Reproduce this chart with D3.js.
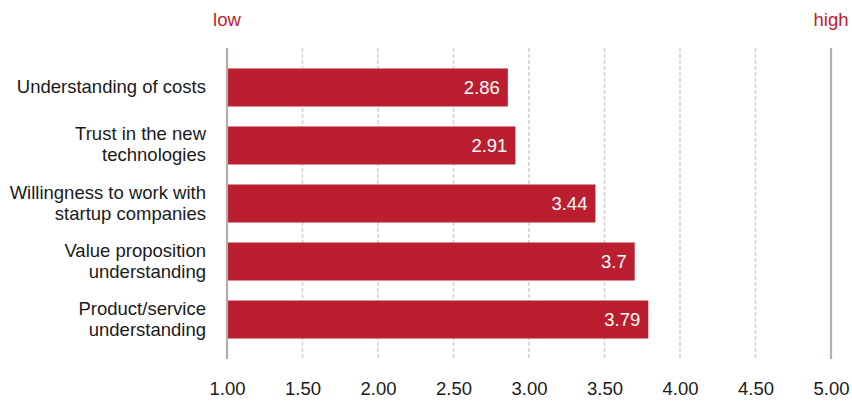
<!DOCTYPE html>
<html>
<head>
<meta charset="utf-8">
<script src="https://cdn.jsdelivr.net/npm/d3@7"></script>
<style>
  html, body { margin: 0; padding: 0; background: #ffffff; }
  svg { display: block; font-family: "Liberation Sans", Arial, Helvetica, sans-serif; }
</style>
</head>
<body>
<svg id="chart" width="852" height="401"></svg>
<script>
const categories = [
  ["Understanding of costs"],
  ["Trust in the new", "technologies"],
  ["Willingness to work with", "startup companies"],
  ["Value proposition", "understanding"],
  ["Product/service", "understanding"]
];
const values = [2.86, 2.91, 3.44, 3.7, 3.79];
const tickValues = [1, 1.5, 2, 2.5, 3, 3.5, 4, 4.5, 5];
const endLabels = ["low", "high"];

const svg = d3.select("#chart");
const red = "#bb1f2f";
const axisCol = "#b8aea7";
const gridCol = "#d8d3cf";
const fs = 18.5;

const x = d3.scaleLinear().domain([1, 5]).range([227, 831]);
const y = d3.scaleBand().domain(d3.range(categories.length)).range([48, 359])
  .paddingInner(0.345).paddingOuter(0.353);

// dashed grid lines
svg.append("g").selectAll("line")
  .data(tickValues.filter(t => t !== 1 && t !== 5))
  .join("line")
  .attr("x1", d => x(d)).attr("x2", d => x(d))
  .attr("y1", 48).attr("y2", 359)
  .attr("stroke", gridCol).attr("stroke-width", 1.6)
  .attr("stroke-dasharray", "4,2");

// bars
svg.append("g").selectAll("rect")
  .data(values)
  .join("rect")
  .attr("x", x(1) + 1)
  .attr("y", (d, i) => y(i))
  .attr("width", d => x(d) - x(1) - 1)
  .attr("height", y.bandwidth())
  .attr("fill", red);

// solid end lines
svg.append("g").selectAll("line")
  .data([1, 5])
  .join("line")
  .attr("x1", d => x(d)).attr("x2", d => x(d))
  .attr("y1", 48).attr("y2", 359)
  .attr("stroke", axisCol).attr("stroke-width", 2.2);

// value labels
svg.append("g").selectAll("text")
  .data(values)
  .join("text")
  .attr("x", d => x(d) - 8)
  .attr("y", (d, i) => y(i) + y.bandwidth() / 2 + 6.5)
  .attr("text-anchor", "end")
  .attr("fill", "#ffffff")
  .attr("font-size", fs)
  .text(d => d);

// category labels
const lh = 21;
const cat = svg.append("g").selectAll("text")
  .data(categories)
  .join("text")
  .attr("text-anchor", "end")
  .attr("fill", "#1a1a1a")
  .attr("font-size", fs)
  .attr("y", (d, i) => y(i) + y.bandwidth() / 2 + 5.5 - (d.length - 1) * lh / 2);
cat.selectAll("tspan")
  .data(d => d)
  .join("tspan")
  .attr("x", 206)
  .attr("dy", (d, i) => i === 0 ? 0 : lh)
  .text(d => d);

// x axis tick labels
const xAxis = d3.axisBottom(x).tickValues(tickValues).tickFormat(d3.format(".2f")).tickSize(0).tickPadding(0);
const ag = svg.append("g").attr("transform", "translate(0,381.5)").call(xAxis);
ag.select(".domain").remove();
ag.selectAll("text").attr("font-size", fs).attr("fill", "#1a1a1a")
  .attr("font-family", "Liberation Sans, Arial, sans-serif");

// low / high
svg.append("g").selectAll("text")
  .data(endLabels)
  .join("text")
  .attr("x", (d, i) => x(i === 0 ? 1 : 5))
  .attr("y", 26)
  .attr("text-anchor", "middle")
  .attr("fill", "#c0202f")
  .attr("font-size", fs)
  .text(d => d);
</script>
</body>
</html>
